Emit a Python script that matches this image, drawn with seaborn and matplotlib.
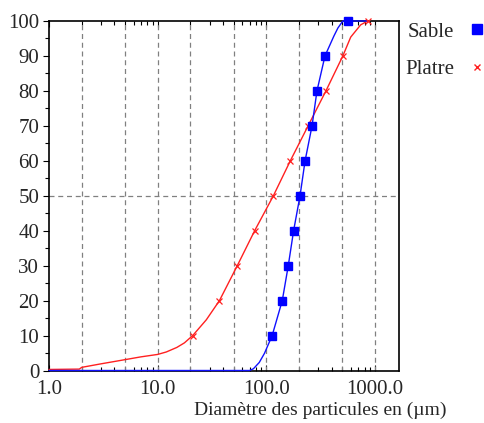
import numpy as np
import pandas as pd
import seaborn as sns
import matplotlib.pyplot as plt
from matplotlib.lines import Line2D
from matplotlib.ticker import LogLocator, FixedLocator, NullFormatter, MultipleLocator

# cumulative curves (diametre in um, % passing)
sable_d = [1.0, 70, 76, 86, 96, 113, 140, 159, 178, 204, 227, 263, 292, 346, 418, 455, 505, 855]
sable_y = [0, 0, 0.5, 2.3, 4.9, 10, 20, 30, 40, 50, 60, 70, 80, 90, 95.7, 98, 100, 100]
platre_d = [1.0, 1.9, 2.0, 3.0, 5.0, 7.0, 10, 12, 15, 17.6, 21, 28, 37, 54, 78, 116, 166, 242, 353, 505, 597, 737, 855]
platre_y = [0.3, 0.4, 0.9, 1.9, 3.1, 3.9, 4.6, 5.3, 6.6, 7.9, 10, 14.5, 20, 30, 40, 50, 60, 70, 80, 90, 95.4, 98.9, 100]

# measured points (markers)
sable_pts_d = [113, 140, 159, 178, 204, 227, 263, 292, 346, 561]
platre_pts_d = [21, 37, 54, 78, 116, 166, 242, 353, 505, 855]
pts_y = [10, 20, 30, 40, 50, 60, 70, 80, 90, 100]

xticks = [1, 10, 100, 1000]
xticklabels = ["1.0", "10.0", "100.0", "1000.0"]
xgrid = [2, 5, 10, 20, 50, 100, 200, 500, 1000]

sns.set_style("white")
plt.rcParams['font.family'] = ['Liberation Serif', 'DejaVu Serif']

fig = plt.figure(figsize=(4.84, 4.23), dpi=100)
ax = fig.add_axes([49/484, 1-370.5/423, 350/484, 349.5/423])

for g in xgrid:
    ax.axvline(g, color='#808080', lw=0.9, ls=(0, (4, 3)), zorder=1)
ax.axhline(50, color='#808080', lw=0.9, ls=(0, (4, 3)), zorder=1)

df_s = pd.DataFrame({'d': sable_d, 'y': sable_y})
df_p = pd.DataFrame({'d': platre_d, 'y': platre_y})
sns.lineplot(data=df_p, x='d', y='y', color='#ff2020', lw=1.0, ax=ax, sort=False, zorder=3, clip_on=False)
sns.lineplot(data=df_s, x='d', y='y', color='#1010ff', lw=1.0, ax=ax, sort=False, zorder=3, clip_on=False)

ax.plot(platre_pts_d, pts_y, ls='none', marker='x', ms=4, mew=0.9, color='#ff2020', zorder=4, clip_on=False)
ax.plot(sable_pts_d, pts_y, ls='none', marker='s', ms=6.2, color='#0000ff', zorder=5, clip_on=False)

ax.set_xscale('log')
ax.set_xlim(1, 1660)
ax.set_ylim(0, 100)

ax.xaxis.set_major_locator(FixedLocator(xticks))
ax.set_xticklabels(xticklabels)
ax.xaxis.set_minor_locator(LogLocator(base=10, subs=np.arange(2, 10)))
ax.xaxis.set_minor_formatter(NullFormatter())
ax.yaxis.set_major_locator(MultipleLocator(10))
ax.yaxis.set_minor_locator(MultipleLocator(5))

ax.tick_params(axis='x', which='both', direction='in', top=True, bottom=True, labelsize=15, pad=7, color='black')
ax.tick_params(axis='x', which='major', length=4, width=0.8)
ax.tick_params(axis='x', which='minor', length=3, width=0.8)
ax.tick_params(axis='y', which='both', direction='out', left=True, right=False, labelsize=15, pad=3, color='black')
ax.tick_params(axis='y', which='major', length=4, width=0.8)
ax.tick_params(axis='y', which='minor', length=3, width=0.8)

for s in ax.spines.values():
    s.set_color('black')
    s.set_linewidth(1.2)

ax.set_xlabel('')
ax.set_ylabel('')
fig.text(447/484, 1-410/423, "Diamètre des particules en (µm)", ha='right', va='center', fontsize=14)

handles = [
    Line2D([], [], ls='none', marker='s', ms=7, color='#0000ff', label='Sable'),
    Line2D([], [], ls='none', marker='x', ms=5, mew=1.0, color='#ff2020', label='Platre'),
]
ax.legend(handles=handles, loc='upper left', bbox_to_anchor=(0.994, 1.021), frameon=False,
          markerfirst=False, handlelength=0.6, handletextpad=0.8, labelspacing=0.87,
          fontsize=15, borderaxespad=0)

fig.savefig('out.png', dpi=100)
